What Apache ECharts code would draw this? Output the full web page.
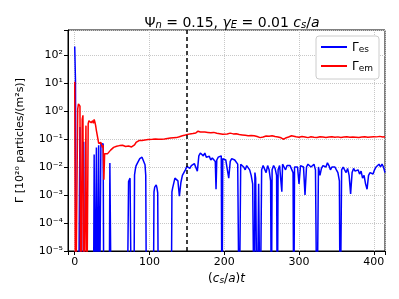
<!DOCTYPE html>
<html>
<head>
<meta charset="utf-8">
<script src="https://cdn.jsdelivr.net/npm/echarts@6/dist/echarts.min.js"></script>
<style>html,body{margin:0;padding:0;background:#fff;}#c{width:399px;height:299px;}</style>
</head>
<body>
<div id="c"></div>
<script>
// Γ_es (blue): time, value
const tEs = [0,1,2,5,6,7,8,11,12,13,25,26,27,28,29,30,31,32,33,34,35,36,37,38,39,46,47,48,49,
70,71,72,73,74,75,76,79,80,81,82,84,87,90,92,94,95,96,
105,106,107,109,110,111,112,129,130,131,132,134,136,138,140,142,144,146,148,150,152,154,156,158,160,162,164,166,168,170,172,174,176,178,180,182,184,186,188,189,190,192,194,196,197,198,
200,202,204,206,208,210,212,214,216,218,220,222,224,226,228,230,232,234,236,238,240,241,242,244,246,248,250,252,254,256,258,260,262,263,264,266,268,270,271,272,274,276,277,278,280,282,284,286,288,290,292,293,294,296,298,
300,302,304,306,308,310,312,314,316,318,320,322,324,326,328,330,332,334,336,338,340,342,344,346,348,350,352,354,355,357,359,361,363,365,367,369,371,373,375,377,379,381,383,385,387,389,391,393,395,397,399,401,403,405,407,409,411,413,415];
const gammaEs = [200,12,1e-8,1e-8,1e-8,0.27,1e-8,1e-8,0.08,1e-8,1e-8,0.028,1e-8,1e-8,0.05,1e-8,1e-8,0.06,1e-8,1e-8,0.065,0.06,0.07,0.068,1e-8,1e-8,0.014,0.013,1e-8,
1e-8,1e-8,0.003,0.0035,0.004,0.0046,1e-8,1e-8,0.0052,0.008,0.011,0.014,0.02,0.0224,0.02,0.012,0.005,1e-8,
1e-8,0.0013,0.0019,0.0023,0.0018,0.0012,1e-8,1e-8,0.0013,0.0018,0.002,0.004,0.0045,0.0032,0.0009,0.0028,0.005,0.0063,0.0079,0.0105,0.01,0.0089,0.0112,0.012,0.0132,0.0112,0.0071,0.025,0.0316,0.028,0.025,0.0316,0.0224,0.02,0.024,0.0178,0.021,0.019,0.0158,0.0016,0.0178,0.0224,0.02,0.025,1e-8,0.02,
0.0224,0.0178,0.02,0.004,0.0158,0.02,0.0224,0.0178,0.0158,0.0126,1e-8,0.0126,0.0141,0.01,0.0079,0.0112,0.0126,0.0079,0.005,0.0025,1e-8,0.0063,0.004,1e-8,0.0025,1e-8,0.0079,0.0112,0.01,0.0063,0.0112,0.0079,0.0032,1e-8,0.0079,0.0112,0.0089,0.005,1e-8,0.0079,0.0112,0.0126,0.0013,0.0126,0.01,0.0079,0.0112,0.0126,0.0112,0.01,0.0063,1e-8,0.01,0.0112,0.01,
0.0025,0.0112,0.0126,0.01,0.001,0.01,0.0126,0.0112,0.01,0.0112,0.0126,0.0079,1e-8,0.01,0.005,0.0089,0.0112,0.0126,0.01,0.0141,0.0112,0.0079,0.01,0.0089,0.01,0.0079,0.0063,0.0032,1e-8,0.0079,0.01,0.0079,0.0063,0.0089,0.005,0.0011,0.0063,0.0089,0.0071,0.0063,0.0079,0.0056,0.0071,0.004,0.005,0.0025,0.0016,0.005,0.0063,0.0071,0.0056,0.0079,0.01,0.0112,0.0126,0.01,0.0126,0.01,0.0063];
// Γ_em (red): time, value
const tEm = [0,1,3,4,5,6,7,8,9,10,11,12,14,15,16,17,18,19,20,22,24,25,26,27,28,29,30,31,32,33,34,35,36,37,38,39,40,41,42,44,46,48,50,52,54,56,58,60,62,64,66,68,70,72,74,76,78,80,82,84,86,88,90,92,94,96,98,
100,104,108,112,116,120,124,128,132,136,140,144,148,150,154,158,162,165,166,168,170,174,178,182,186,190,194,198,
200,204,208,212,216,220,224,228,232,236,240,244,248,252,256,260,264,268,272,276,279,282,286,290,292,296,
300,304,308,312,316,320,324,328,332,336,340,344,348,352,356,360,364,368,372,376,380,384,388,392,396,400,404,408,412,415];
const gammaEm = [11,1e-8,1e-8,1.2,1.8,1.9,1.5,1e-8,1e-8,0.5,0.7,1e-8,1e-8,0.3,1e-8,1e-8,0.35,0.45,0.42,0.38,0.45,0.36,0.5,0.4,0.3,0.2,0.18,0.1,0.07,0.08,0.06,0.075,0.06,0.05,0.06,0.0035,0.03,0.035,0.028,0.03,0.035,0.04,0.045,0.05,0.045,0.055,0.05,0.058,0.055,0.06,0.057,0.054,0.058,0.056,0.055,0.052,0.05,0.062,0.075,0.085,0.088,0.09,0.089,0.088,0.092,0.09,0.095,
0.093,0.097,0.1,0.098,0.097,0.1,0.104,0.108,0.11,0.112,0.12,0.13,0.138,0.145,0.152,0.158,0.165,0.19,0.17,0.178,0.182,0.176,0.172,0.168,0.172,0.16,0.155,0.148,
0.155,0.15,0.162,0.152,0.155,0.145,0.14,0.135,0.13,0.133,0.13,0.122,0.112,0.118,0.128,0.125,0.13,0.122,0.118,0.11,0.098,0.108,0.118,0.13,0.125,0.12,
0.115,0.122,0.118,0.112,0.12,0.116,0.113,0.12,0.117,0.114,0.118,0.121,0.115,0.119,0.113,0.117,0.12,0.115,0.118,0.116,0.112,0.117,0.12,0.115,0.118,0.121,0.119,0.124,0.118,0.12];
const shearOnset = 150;
const yMin = 1e-5, yMax = 780;
const xMin = -9, xMax = 415;
const supDigits = {'-':'⁻','0':'⁰','1':'¹','2':'²','3':'³','4':'⁴','5':'⁵','6':'⁶','7':'⁷','8':'⁸','9':'⁹'};

const esData = tEs.map((t,i)=>[t,gammaEs[i]]);
const emData = tEm.map((t,i)=>[t,gammaEm[i]]);

const FONT = 'DejaVu Sans';
const base = {fontFamily:FONT,color:'#000',fontWeight:'normal',verticalAlign:'bottom'};
const chart = echarts.init(document.getElementById('c'), null, {renderer:'canvas'});
chart.setOption({
  backgroundColor:'#fff',
  animation:false,
  textStyle:{fontFamily:FONT},
  title:{
    text:'{n|Ψ}{sub|n}{n| = 0.15, }{i|γ}{sub|E}{n| = 0.01 }{i|c}{sub|s}{n|/}{i|a}',
    left:227, top:10, textAlign:'center',
    textStyle:{fontWeight:'normal',rich:{
      n:Object.assign({},base,{fontSize:14}),
      i:Object.assign({},base,{fontSize:14,fontStyle:'italic'}),
      sub:Object.assign({},base,{fontSize:10,fontStyle:'italic',padding:[5,0,0,0]})
    }}
  },
  grid:{left:68,right:14,top:30,bottom:48,show:true,borderColor:'#000',borderWidth:1,containLabel:false},
  legend:{
    orient:'vertical', right:20, top:36,
    data:['es','em'],
    icon:'rect', itemWidth:26, itemHeight:2, itemGap:7,
    backgroundColor:'#fff', borderColor:'#ccc', borderWidth:1, borderRadius:3, padding:[6,6,6,5],
    formatter:n=>'{g|Γ}{s|'+n+'}',
    textStyle:{rich:{
      g:Object.assign({},base,{fontSize:12}),
      s:Object.assign({},base,{fontSize:9,padding:[5,0,0,0]})
    }}
  },
  xAxis:{
    type:'value', min:xMin, max:xMax,
    name:'{n|(}{i|c}{si|s}{n|/}{i|a}{n|)}{i|t}',
    nameLocation:'middle', nameGap:21,
    nameTextStyle:{rich:{
      n:Object.assign({},base,{fontSize:12}),
      i:Object.assign({},base,{fontSize:12,fontStyle:'italic'}),
      si:Object.assign({},base,{fontSize:9,fontStyle:'italic',padding:[4,0,0,0]})
    }},
    axisLine:{show:true,onZero:false,lineStyle:{color:'#000',width:1}},
    axisTick:{show:true,length:4,lineStyle:{color:'#000'}},
    axisLabel:{color:'#000',fontFamily:FONT,fontSize:11,margin:6,
      formatter:v=>(Math.abs(v%100)<1e-9?String(v):'')},
    splitLine:{show:true,lineStyle:{color:'#c8c8c8',type:'dotted',width:1}}
  },
  yAxis:{
    type:'log', logBase:10, min:yMin, max:yMax,
    name:'Γ [10²⁰ particles/(m²s)]',
    nameLocation:'middle', nameGap:42,
    nameTextStyle:{fontFamily:FONT,fontSize:11,color:'#000'},
    axisLine:{show:true,onZero:false,lineStyle:{color:'#000',width:1}},
    axisTick:{show:true,length:4,lineStyle:{color:'#000'}},
    axisLabel:{color:'#000',fontFamily:FONT,fontSize:11,margin:5,
      formatter:v=>{const e=Math.log10(v);const r=Math.round(e);if(Math.abs(e-r)>1e-6)return '';return '10'+String(r).split('').map(c=>supDigits[c]).join('');}},
    splitLine:{show:true,lineStyle:{color:'#c8c8c8',type:'dotted',width:1}}
  },
  series:[
    {name:'es',type:'line',data:esData,showSymbol:false,symbol:'none',color:'#0000ff',lineStyle:{color:'#0000ff',width:1.5},clip:true},
    {name:'em',type:'line',data:emData,showSymbol:false,symbol:'none',color:'#ff0000',lineStyle:{color:'#ff0000',width:1.5},clip:true,
      markLine:{silent:true,symbol:'none',label:{show:false},lineStyle:{color:'#000',type:[4,3],width:1.5},data:[{xAxis:shearOnset}]}}
  ]
});
</script>
</body>
</html>
